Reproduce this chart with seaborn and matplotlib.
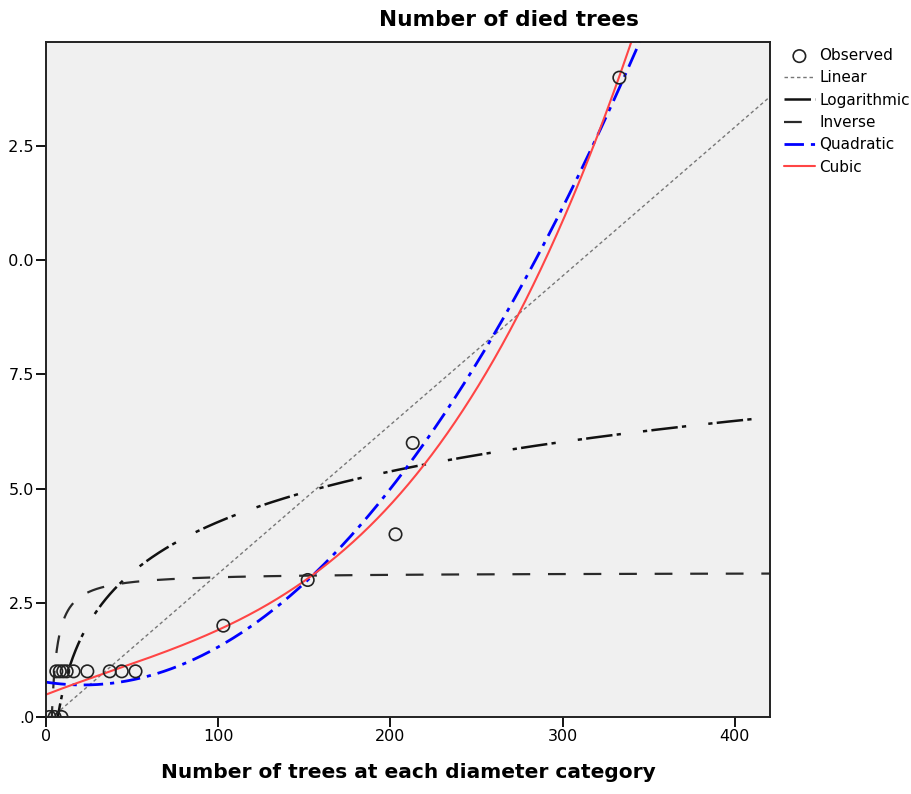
import numpy as np
import pandas as pd
import matplotlib.pyplot as plt
import seaborn as sns
from matplotlib.patches import Rectangle

trees = [2, 5, 9, 6, 8, 10, 12, 16, 24, 37, 44, 52, 103, 152, 203, 213, 333]
died = [0, 0, 0, 1, 1, 1, 1, 1, 1, 1, 1, 1, 2, 3, 4, 6, 14]

x_ticks = [0, 100, 200, 300, 400]
y_ticks = [0, 2.5, 5.0, 7.5, 10.0, 12.5]
y_tick_labels = ['.0', '2.5', '5.0', '7.5', '10.0', '12.5']

obs = pd.DataFrame({'trees': trees, 'died': died})
x = np.array(trees, dtype=float)
y = np.array(died, dtype=float)

# Curve estimation models fitted to the observed data
xs = np.linspace(0.2, 425, 3000)
lin = np.polyfit(x, y, 1)
quad = np.polyfit(x, y, 2)
cub = np.polyfit(x, y, 3)
logc = np.polyfit(np.log(x), y, 1)
invc = np.polyfit(1 / x, y, 1)

curves = pd.DataFrame({
    'x': xs,
    'Linear': np.polyval(lin, xs),
    'Logarithmic': np.polyval(logc, np.log(xs)),
    'Inverse': np.polyval(invc, 1 / xs),
    'Quadratic': np.polyval(quad, xs),
    'Cubic': np.polyval(cub, xs),
})

sns.set_style('white')
plt.rcParams['font.family'] = ['DejaVu Sans']
plt.rcParams['text.color'] = 'black'
plt.rcParams['axes.labelcolor'] = 'black'
plt.rcParams['xtick.color'] = 'black'
plt.rcParams['ytick.color'] = 'black'

fig = plt.figure(figsize=(9.12, 7.94), dpi=100)
ax = fig.add_axes([46 / 912, 77 / 794, 724 / 912, 675 / 794])
ax.set_facecolor('#f0f0f0')

sns.scatterplot(data=obs, x='trees', y='died', ax=ax, s=80, marker='o',
                facecolor='none', edgecolor='#222222', linewidth=1.2,
                label='Observed', zorder=5)

styles = {
    'Linear': dict(color='#777777', lw=1.0, linestyle=(0, (2.5, 2))),
    'Logarithmic': dict(color='#111111', lw=1.8,
                        linestyle=(0, (10.6, 1.7, 1.7, 8.9, 1.7, 1.7))),
    'Inverse': dict(color='#2a2a2a', lw=1.6, linestyle=(0, (8, 8))),
    'Quadratic': dict(color='#0000ff', lw=2.0, linestyle=(0, (7, 2.5, 1.5, 2.5))),
    'Cubic': dict(color='#ff4545', lw=1.5, linestyle='-'),
}
for name, st in styles.items():
    sns.lineplot(data=curves, x='x', y=name, ax=ax, label=name,
                 errorbar=None, estimator=None, sort=False, **st)

ax.set_xlim(0, 420.5)
ax.set_ylim(0, 14.78)
ax.set_xticks(x_ticks)
ax.set_yticks(y_ticks)
ax.set_yticklabels(y_tick_labels)
ax.tick_params(axis='both', direction='out', length=7.5, width=1.3,
               color='black', labelsize=11.5, pad=1, left=True, bottom=True)
for sp in ax.spines.values():
    sp.set_color('#222222')
    sp.set_linewidth(1.4)

ax.set_xlabel('Number of trees at each diameter category', fontsize=14.5,
              fontweight='bold', labelpad=14)
ax.set_ylabel('')
fig.text(508.5 / 912, 1 - 20 / 794, 'Number of died trees', ha='center', va='center',
         fontsize=15.6, fontweight='bold')

handles, labels = ax.get_legend_handles_labels()
ax.get_legend().remove()
fig.legend(handles, labels, loc='upper left', bbox_to_anchor=(778 / 912, 1 - 42 / 794),
           frameon=False, fontsize=11, handlelength=2.0, handletextpad=0.3,
           labelspacing=0.48, borderaxespad=0)

# the original picture is cut at the left edge, hiding the leading "1"
fig.add_artist(Rectangle((0, 0), 8.5 / 912, 1, transform=fig.transFigure,
                         facecolor='white', edgecolor='none', zorder=10))

fig.savefig('out.png', dpi=100)
